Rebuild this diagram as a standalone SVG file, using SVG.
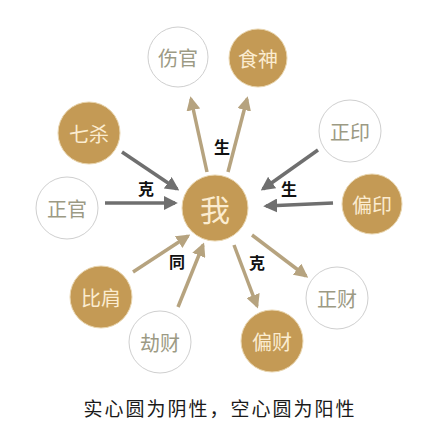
<svg xmlns="http://www.w3.org/2000/svg" width="441" height="435" viewBox="0 0 441 435">
<style>
.fill circle{fill:#c49a55;stroke:#e9d6b0;stroke-width:1}
.fill text{fill:#fbecd0;font-family:"Noto Sans CJK SC",sans-serif;font-size:20px;text-anchor:middle;dominant-baseline:central}
.hollow circle{fill:#fff;stroke:#cfcfcf;stroke-width:1}
.hollow text{fill:#9c9a84;font-family:"Noto Sans CJK SC",sans-serif;font-size:20px;text-anchor:middle;dominant-baseline:central}
.g{stroke:#6f6f6f;stroke-width:3.5;fill:none;marker-end:url(#ag)}
.t{stroke:#b6a37f;stroke-width:3.5;fill:none;marker-end:url(#at)}
.lbl{fill:#111;font-family:"Noto Sans CJK SC",sans-serif;font-size:16px;font-weight:bold;text-anchor:middle;dominant-baseline:central}
</style>
<defs>
<marker id="ag" viewBox="0 0 10 10" refX="8" refY="5" markerWidth="4" markerHeight="4" orient="auto" markerUnits="strokeWidth"><path d="M0,0 L10,5 L0,10 z" fill="#6f6f6f"/></marker>
<marker id="at" viewBox="0 0 10 10" refX="8" refY="5" markerWidth="4" markerHeight="4" orient="auto" markerUnits="strokeWidth"><path d="M0,0 L10,5 L0,10 z" fill="#b6a37f"/></marker>
</defs>
<rect width="441" height="435" fill="#fff"/>
<g id="connectors">
<line class="t" x1="207" y1="172" x2="191" y2="99"/>
<line class="t" x1="228" y1="172" x2="247" y2="99"/>
<line class="g" x1="122" y1="152" x2="177" y2="189"/>
<line class="g" x1="105" y1="203" x2="175" y2="203"/>
<line class="g" x1="318" y1="150" x2="263" y2="189"/>
<line class="g" x1="333" y1="203" x2="266" y2="206"/>
<line class="t" x1="133" y1="272" x2="188" y2="236"/>
<line class="t" x1="178" y1="307" x2="203" y2="245"/>
<line class="t" x1="234" y1="245" x2="257" y2="306"/>
<line class="t" x1="252" y1="235" x2="306" y2="276"/>
<text class="lbl" x="222" y="146">生</text>
<text class="lbl" x="146" y="188">克</text>
<text class="lbl" x="289" y="188">生</text>
<text class="lbl" x="177" y="261">同</text>
<text class="lbl" x="257" y="262">克</text>
</g>
<g id="wo" class="fill"><circle cx="215" cy="208" r="33"/><text x="215" y="208" style="font-size:30px">我</text></g>
<g id="shangguan" class="hollow"><circle cx="178" cy="57" r="30"/><text x="178" y="57">伤官</text></g>
<g id="shishen" class="fill"><circle cx="258" cy="58" r="29"/><text x="258" y="58">食神</text></g>
<g id="qisha" class="fill"><circle cx="89" cy="133" r="31"/><text x="89" y="133">七杀</text></g>
<g id="zhengguan" class="hollow"><circle cx="67" cy="208" r="31"/><text x="67" y="208">正官</text></g>
<g id="zhengyin" class="hollow"><circle cx="350" cy="131" r="31"/><text x="350" y="131">正印</text></g>
<g id="pianyin" class="fill"><circle cx="372" cy="204" r="30"/><text x="372" y="204">偏印</text></g>
<g id="bijian" class="fill"><circle cx="101" cy="297" r="31"/><text x="101" y="297">比肩</text></g>
<g id="jiecai" class="hollow"><circle cx="160" cy="342" r="31"/><text x="160" y="342">劫财</text></g>
<g id="zhengcai" class="hollow"><circle cx="337" cy="298" r="31"/><text x="337" y="298">正财</text></g>
<g id="piancai" class="fill"><circle cx="272" cy="341" r="31"/><text x="272" y="341">偏财</text></g>
<text x="220" y="407" fill="#1a1a1a" font-family="Noto Sans CJK SC, sans-serif" font-size="19" text-anchor="middle" dominant-baseline="central" letter-spacing="2">实心圆为阴性，空心圆为阳性</text>
</svg>
